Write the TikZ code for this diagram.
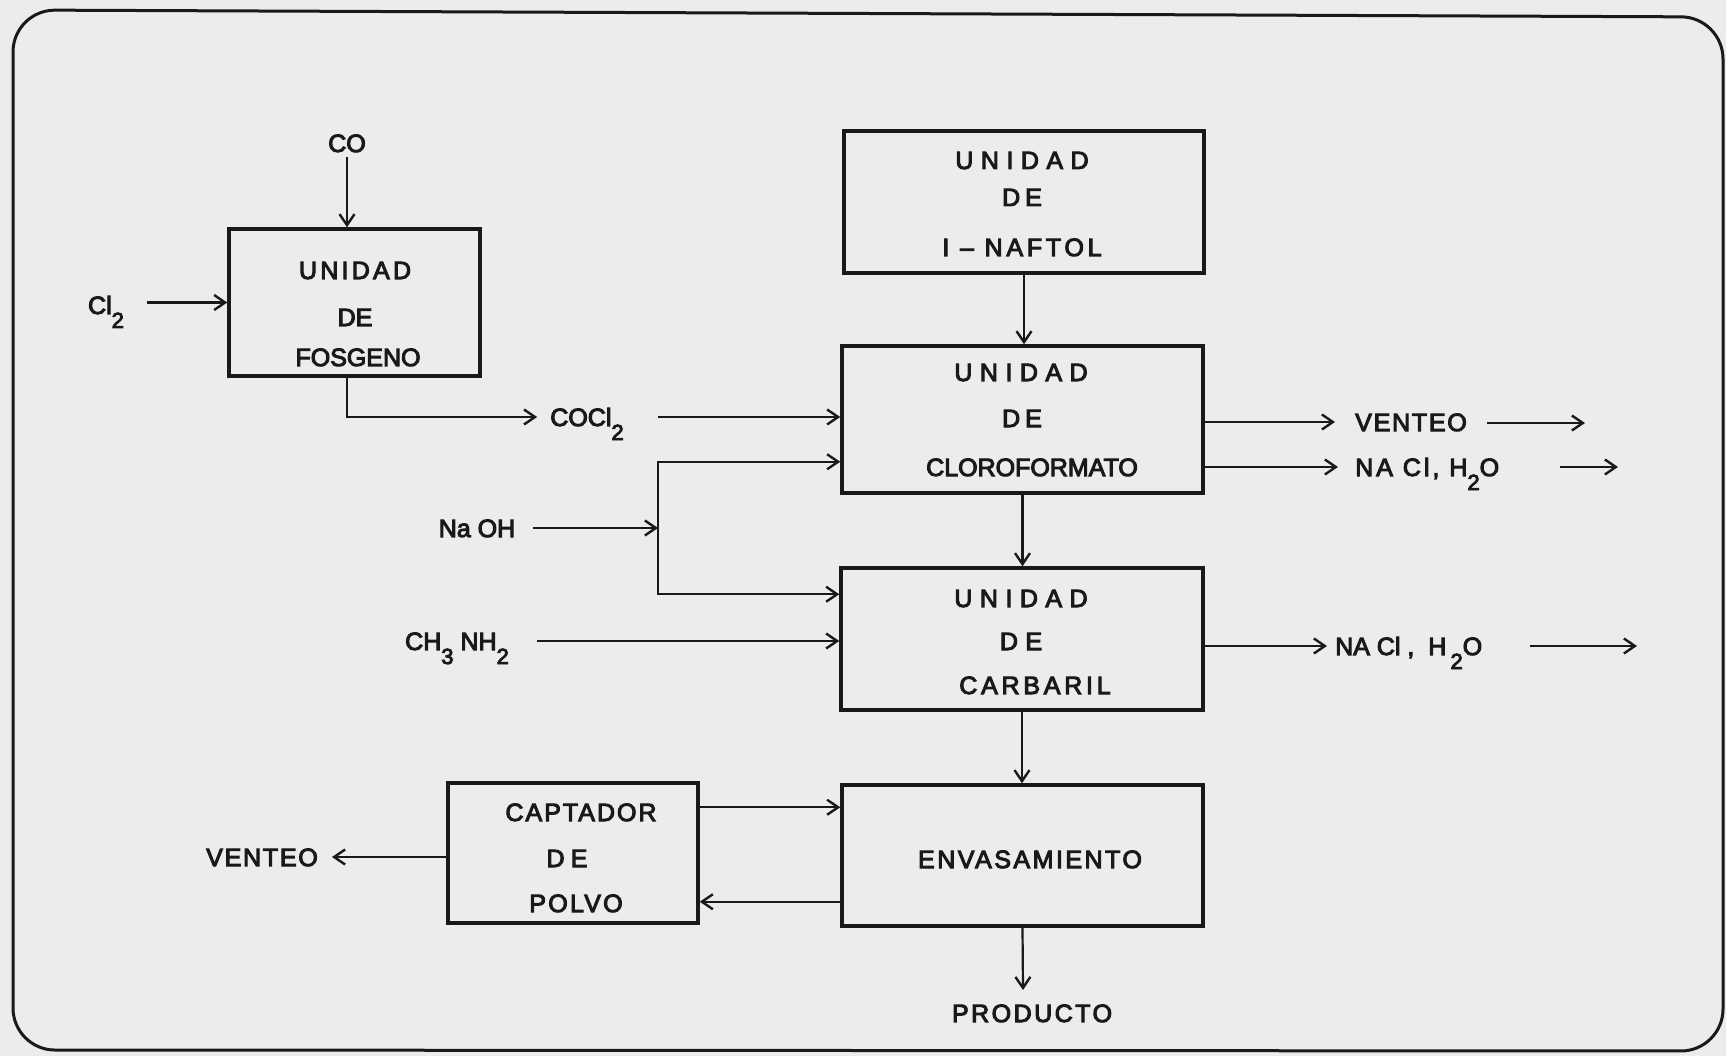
\documentclass[tikz,border=0pt]{standalone}
\usepackage{fontspec}
\setmainfont{Liberation Sans}[FakeBold=4]
\usetikzlibrary{arrows.meta}
\definecolor{paper}{RGB}{236,236,236}
\definecolor{ink}{RGB}{25,25,25}
\newcommand{\sbs}[1]{\raisebox{-14pt}{\fontsize{22}{22}\selectfont #1}}
\newcommand{\lsp}[2]{{\addfontfeatures{LetterSpace=#1}#2}}
\begin{document}
\begin{tikzpicture}[x=1pt,y=-1pt,
  box/.style={draw=ink, line width=3.5pt, inner sep=0pt},
  lbl/.style={inner sep=0pt, text height=18pt, text depth=0pt, text=ink, font=\fontsize{25}{30}\selectfont},
  arr/.style={draw=ink, line width=2.2pt, -{Straight Barb[length=11pt,width=15pt,line width=2.4pt]}},
  ln/.style={draw=ink, line width=2pt}]
\fill[paper] (0,0) rectangle (1726,1056);
\useasboundingbox (0,0) rectangle (1726,1056);
\draw[ink, line width=3pt, rounded corners=42pt] (13,10) -- (1723,17) -- (1723,1051) -- (13,1050) -- cycle;

% boxes
\node[box, minimum width=251pt, minimum height=147pt] (fos) at (354.5,302.5) {};
\node[box, minimum width=360pt, minimum height=142pt] (naf) at (1024,202) {};
\node[box, minimum width=361pt, minimum height=147pt] (clo) at (1022.5,419.5) {};
\node[box, minimum width=362pt, minimum height=142pt] (carb) at (1022,639) {};
\node[box, minimum width=361pt, minimum height=141pt] (env) at (1022.5,855.5) {};
\node[box, minimum width=250pt, minimum height=140pt] (cap) at (573,853) {};

% box texts
\node[lbl] (fos1) at (355,270) {\lsp{13}{UNIDAD}};
\node[lbl] (fos2) at (355,317) {DE};
\node[lbl] (fos3) at (358,357) {FOSGENO};
\node[lbl] (naf1) at (1022,160) {\lsp{30}{UNIDAD}};
\node[lbl] (naf2) at (1022,197) {\lsp{20}{DE}};
\node[lbl] (naf3) at (1022,247) {\lsp{15}{I -- NAFTOL}};
\node[lbl] (clo1) at (1021,372) {\lsp{30}{UNIDAD}};
\node[lbl] (clo2) at (1022,418) {\lsp{20}{DE}};
\node[lbl] (clo3) at (1032,467) {CLOROFORMATO};
\node[lbl] (carb1) at (1021,598) {\lsp{30}{UNIDAD}};
\node[lbl] (carb2) at (1021,641) {\lsp{30}{DE}};
\node[lbl] (carb3) at (1035,685) {\lsp{15}{CARBARIL}};
\node[lbl] (env1) at (1030,859) {\lsp{10}{ENVASAMIENTO}};
\node[lbl] (cap1) at (581,812) {\lsp{8}{CAPTADOR}};
\node[lbl] (cap2) at (567,858) {\lsp{25}{DE}};
\node[lbl] (cap3) at (576,903) {\lsp{9}{POLVO}};

% stream labels
\node[lbl] (co) at (347,143) {CO};
\node[lbl] (cl) at (106,305) {Cl\sbs{2}};
\node[lbl] (cocl) at (587,417) {COCl\sbs{2}};
\node[lbl] (naoh) at (477,528) {Na OH};
\node[lbl] (ch) at (457,641) {CH\sbs{3} NH\sbs{2}};
\node[lbl] (ventr) at (1411,422) {\lsp{7}{VENTEO}};
\node[lbl, anchor=west] (nacl1) at (1355,467) {\lsp{12}{NA Cl, H}\sbs{2}O};
\node[lbl, anchor=west] (nacl2) at (1335,646) {NA Cl ,\ \ H\,\sbs{2}O};
\node[lbl] (ventl) at (262,857) {\lsp{7}{VENTEO}};
\node[lbl] (prod) at (1032,1013) {\lsp{10}{PRODUCTO}};

% free ends
\coordinate (j) at (658,528);
\coordinate (o1) at (1487,423);
\coordinate (o2) at (1560,467);
\coordinate (o3) at (1530,646);
\coordinate (pe) at (1023,990);

% connectors
\draw[arr] ([yshift=-5pt]co.south) -- (co.south |- fos.north);
\draw[arr] ([xshift=23pt]cl.east |- fos.west) -- (fos.west);
\draw[arr] (fos.south -| co) |- ([xshift=-13pt]cocl.west);
\draw[arr] ([xshift=34pt]cocl.east) -- (cocl.east -| clo.west);
\draw[arr] ([xshift=18pt]naoh.east) -- (j);
\draw[arr] (j) |- ([yshift=33pt]clo.south west);
\draw[arr] (j) |- ([yshift=-28pt]carb.north west);
\draw[arr] ([xshift=28pt]ch.east) -- (ch.east -| carb.west);
\draw[arr] (naf.south) -- (naf.south |- clo.north);
\draw[arr] (clo.south) -- (clo.south |- carb.north);
\draw[arr] (carb.south) -- (carb.south |- env.north);
\draw[arr] (env.south) -- (pe);
\draw[arr] ([yshift=-26pt]cap.north east) -- ([yshift=-26pt]cap.north east -| env.west);
\draw[arr] ([yshift=26pt]env.south west) -- ([yshift=26pt]env.south west -| cap.east);
\draw[arr] (cap.west |- ventl.east) -- ([xshift=14pt]ventl.east);
\draw[arr] (clo.east |- ventr.west) -- ([xshift=-20pt]ventr.west);
\draw[arr] (o1) -- ++(98,0);
\draw[arr] (clo.east |- nacl1.west) -- ([xshift=-17pt]nacl1.west);
\draw[arr] (o2) -- ++(58,0);
\draw[arr] (carb.east |- nacl2.west) -- ([xshift=-8pt]nacl2.west);
\draw[arr] (o3) -- ++(107,0);
\end{tikzpicture}
\end{document}
